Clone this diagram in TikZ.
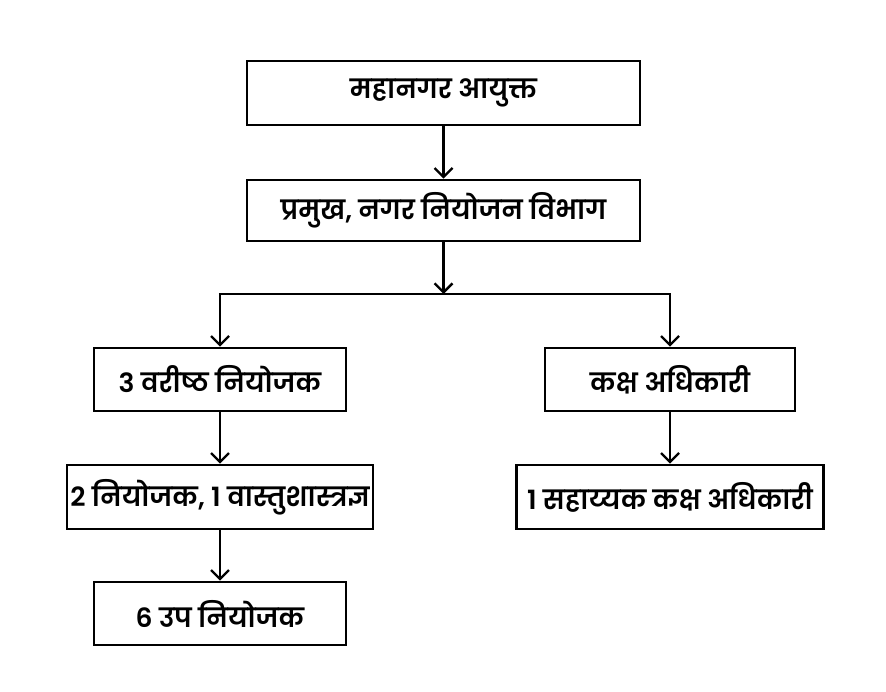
\documentclass[tikz,border=0pt]{standalone}
\usepackage{fontspec}
\newfontfamily\deva[Script=Devanagari,UprightFont={* SemiBold}]{Poppins}
\usetikzlibrary{arrows.meta}
\begin{document}
\begin{tikzpicture}[x=1pt,y=-1pt,
  box/.style={draw,line width=2.6pt,inner sep=0pt,anchor=center,font=\deva\fontsize{26.5}{30}\selectfont},
  arr/.style={line width=2.4pt,-{Straight Barb[length=9pt,width=18pt,line width=2.4pt]}},
  ln/.style={line width=2.4pt}]
\useasboundingbox (0,0) rectangle (886,692);
\node[box,minimum width=393pt,minimum height=64pt] (b1) at (443.5,93) {महानगर आयुक्त};
\node[box,minimum width=393pt,minimum height=61pt] (b2) at (443.5,210.5) {प्रमुख, नगर नियोजन विभाग};
\node[box,minimum width=252pt,minimum height=63pt] (b3) at (220,379.5) {3 वरीष्ठ नियोजक};
\node[box,minimum width=250pt,minimum height=63pt] (b4) at (670,379.5) {कक्ष अधिकारी};
\node[box,minimum width=306pt,minimum height=64pt] (b5) at (220,497) {2 नियोजक, 1 वास्तुशास्त्रज्ञ};
\node[box,minimum width=307pt,minimum height=64pt] (b6) at (670,497) {1 सहाय्यक कक्ष अधिकारी};
\node[box,minimum width=252pt,minimum height=63pt] (b7) at (220,613.5) {6 उप नियोजक};
\coordinate (j) at (443.5,294);
\coordinate (jl) at (220,294);
\coordinate (jr) at (670,294);
\draw[arr] (b1) -- (b2);
\draw[arr] (b2) -- (j);
\draw[ln] ([xshift=-1.2pt]jl) -- ([xshift=1.2pt]jr);
\draw[arr] (jl) -- (b3);
\draw[arr] (jr) -- (b4);
\draw[arr] (b3) -- (b5);
\draw[arr] (b4) -- (b6);
\draw[arr] (b5) -- (b7);
\end{tikzpicture}
\end{document}
